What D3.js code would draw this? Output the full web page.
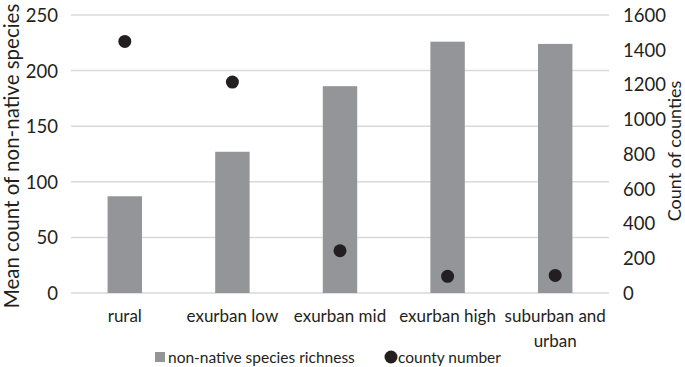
<!DOCTYPE html>
<html>
<head>
<meta charset="utf-8">
<script src="https://cdn.jsdelivr.net/npm/d3@7"></script>
<style>
  body { margin: 0; background: #fff; }
  svg text { font-family: Lato, "Open Sans", sans-serif; fill: #231f20; }
</style>
</head>
<body>
<div id="chart"></div>
<script>
const categories = ["rural", "exurban low", "exurban mid", "exurban high", "suburban and urban"];
const richness = [87, 127, 186, 226, 224];
const countyNumber = [1448, 1214, 243, 96, 101];
const leftTicks = [0, 50, 100, 150, 200, 250];
const rightTicks = [0, 200, 400, 600, 800, 1000, 1200, 1400, 1600];

const width = 685, height = 367;
const margin = { top: 15, right: 76, bottom: 74, left: 71 };
const innerW = width - margin.left - margin.right;
const innerH = height - margin.top - margin.bottom;

const svg = d3.select("#chart").append("svg")
  .attr("width", width)
  .attr("height", height);

const g = svg.append("g").attr("transform", `translate(${margin.left},${margin.top})`);

const x = d3.scaleBand().domain(categories).range([0, innerW]).paddingInner(0.68).paddingOuter(0.34);
const yL = d3.scaleLinear().domain([0, 250]).range([innerH, 0]);
const yR = d3.scaleLinear().domain([0, 1600]).range([innerH, 0]);

// gridlines
g.selectAll(".grid").data(leftTicks).join("line")
  .attr("x1", 0).attr("x2", innerW)
  .attr("y1", d => yL(d)).attr("y2", d => yL(d))
  .attr("stroke", "#d9d9d9").attr("stroke-width", 1.5);

// left axis
const axL = g.append("g").call(d3.axisLeft(yL).tickValues(leftTicks).tickSize(0).tickPadding(13));
axL.select(".domain").remove();
axL.selectAll("text").attr("font-size", 18.5).attr("dy", "0.35em");

// right axis
const axR = g.append("g").attr("transform", `translate(${innerW},0)`)
  .call(d3.axisRight(yR).tickValues(rightTicks).tickFormat(d3.format("d")).tickSize(0).tickPadding(14));
axR.select(".domain").remove();
axR.selectAll("text").attr("font-size", 18.5).attr("dy", "0.35em");

// bars
g.selectAll(".bar").data(categories).join("rect")
  .attr("x", d => x(d))
  .attr("width", x.bandwidth())
  .attr("y", (d, i) => yL(richness[i]))
  .attr("height", (d, i) => innerH - yL(richness[i]))
  .attr("fill", "#939598");

// dots
g.selectAll(".dot").data(categories).join("circle")
  .attr("cx", d => x(d) + x.bandwidth() / 2)
  .attr("cy", (d, i) => yR(countyNumber[i]))
  .attr("r", 6.5)
  .attr("fill", "#231f20");

// category labels
const catLines = { "suburban and urban": ["suburban and", "urban"] };
g.selectAll(".cat").data(categories).join("text")
  .attr("x", d => x(d) + x.bandwidth() / 2)
  .attr("y", innerH + 29)
  .attr("text-anchor", "middle")
  .attr("font-size", 17)
  .each(function (d) {
    const lines = catLines[d] || [d];
    d3.select(this).selectAll("tspan").data(lines).join("tspan")
      .attr("x", x(d) + x.bandwidth() / 2)
      .attr("dy", (l, i) => i === 0 ? 0 : 25)
      .text(l => l);
  });

// axis titles
svg.append("text")
  .attr("transform", `translate(19,156) rotate(-90)`)
  .attr("text-anchor", "middle")
  .attr("font-size", 20.5)
  .text("Mean count of non-native species");

svg.append("text")
  .attr("transform", `translate(681,151) rotate(-90)`)
  .attr("text-anchor", "middle")
  .attr("font-size", 18)
  .text("Count of counties");

// legend
const leg = svg.append("g").attr("transform", `translate(0,${height - 9})`);
leg.append("rect").attr("x", 155).attr("y", -6).attr("width", 10).attr("height", 10).attr("fill", "#939598");
leg.append("text").attr("x", 168).attr("y", 0).attr("dy", "0.35em").attr("font-size", 15.5)
  .text("non-native species richness");
leg.append("circle").attr("cx", 391).attr("cy", -1).attr("r", 6.5).attr("fill", "#231f20");
leg.append("text").attr("x", 398).attr("y", 0).attr("dy", "0.35em").attr("font-size", 15.5)
  .text("county number");
</script>
</body>
</html>
